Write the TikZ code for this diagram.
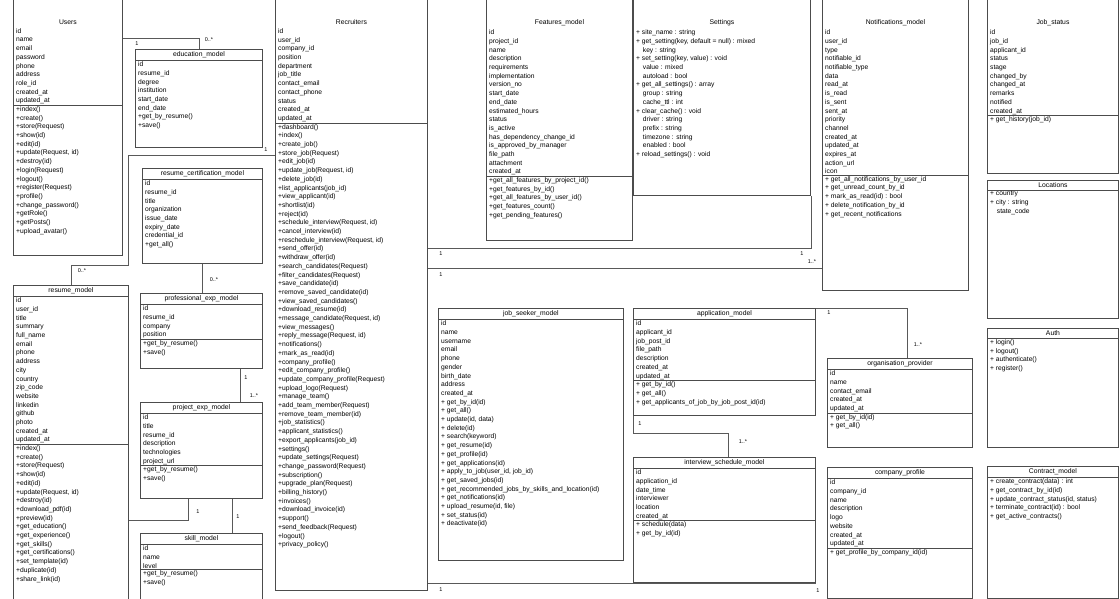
\documentclass[tikz,border=0pt]{standalone}
\usepackage{fontspec}
\setmainfont{Liberation Sans}
\usetikzlibrary{positioning}

\tikzset{
  frame/.style={draw=black!70, line width=0.9pt, anchor=north west, inner sep=0pt},
  ctitle/.style={anchor=north, inner sep=2.5pt, font=\fontsize{6.8}{8}\selectfont},
  members/.style={anchor=north west, align=left, inner sep=1pt, font=\fontsize{6.7}{8.7}\selectfont},
  sepline/.style={draw=black!70, line width=0.9pt},
  link/.style={draw=black!65, line width=0.8pt},
  mult/.style={font=\fontsize{5.5}{6}\selectfont, inner sep=1pt}
}

% attributes and methods of a class
\newcommand{\classbody}[3]{%
  \node[members, xshift=2pt] (#1-a) at (#1.west |- #1-t.south) {#2};
  \def\tmpm{#3}\ifx\tmpm\empty\else
    \draw[sepline] (#1.west |- #1-a.south) -- (#1.east |- #1-a.south);
    \node[members, xshift=2pt] (#1-m) at (#1.west |- #1-a.south) {#3};
  \fi}
% name, top left, width, height, title, attributes, methods
\newcommand{\umlclass}[7]{%
  \node[frame, minimum width=#3pt, minimum height=#4pt] (#1) at (#2) {};
  \node[ctitle] (#1-t) at (#1.north) {#5};
  \draw[sepline] (#1.west |- #1-t.south) -- (#1.east |- #1-t.south);
  \classbody{#1}{#6}{#7}}
% same, top edge cut off by the page
\newcommand{\umlopen}[7]{%
  \node[frame, minimum width=#3pt, minimum height=#4pt] (#1) at (#2) {};
  \node[ctitle] (#1-t) at (#1.center |- 0,17) {#5};
  \classbody{#1}{#6}{#7}}

\begin{document}
\begin{tikzpicture}[x=1pt, y=-1pt]
\useasboundingbox (0,0) rectangle (1120,598);

% left column
\umlopen{users}{13,-10}{109}{265}{Users}
  {id\\name\\email\\password\\phone\\address\\role\_id\\created\_at\\updated\_at}
  {+index()\\+create()\\+store(Request)\\+show(id)\\+edit(id)\\+update(Request, id)\\+destroy(id)\\+login(Request)\\+logout()\\+register(Request)\\+profile()\\+change\_password()\\+getRole()\\+getPosts()\\+upload\_avatar()}

\umlclass{edu}{135,49}{127}{98}{education\_model}
  {id\\resume\_id\\degree\\institution\\start\_date\\end\_date\\+get\_by\_resume()\\+save()}{}

\umlclass{cert}{142,168}{120}{95}{resume\_certification\_model}
  {id\\resume\_id\\title\\organization\\issue\_date\\expiry\_date\\credential\_id\\+get\_all()}{}

\umlclass{resume}{13,285}{115}{330}{resume\_model}
  {id\\user\_id\\title\\summary\\full\_name\\email\\phone\\address\\city\\country\\zip\_code\\website\\linkedin\\github\\photo\\created\_at\\updated\_at}
  {+index()\\+create()\\+store(Request)\\+show(id)\\+edit(id)\\+update(Request, id)\\+destroy(id)\\+download\_pdf(id)\\+preview(id)\\+get\_education()\\+get\_experience()\\+get\_skills()\\+get\_certifications()\\+set\_template(id)\\+duplicate(id)\\+share\_link(id)}

\umlclass{prof}{140,293}{122}{75}{professional\_exp\_model}
  {id\\resume\_id\\company\\position}
  {+get\_by\_resume()\\+save()}

\umlclass{proj}{140,402}{122}{96}{project\_exp\_model}
  {id\\title\\resume\_id\\description\\technologies\\project\_url}
  {+get\_by\_resume()\\+save()}

\umlclass{skill}{140,533}{122}{75}{skill\_model}
  {id\\name\\level}
  {+get\_by\_resume()\\+save()}

% recruiters
\umlopen{recruiters}{275,-10}{152}{600}{Recruiters}
  {id\\user\_id\\company\_id\\position\\department\\job\_title\\contact\_email\\contact\_phone\\status\\created\_at\\updated\_at}
  {+dashboard()\\+index()\\+create\_job()\\+store\_job(Request)\\+edit\_job(id)\\+update\_job(Request, id)\\+delete\_job(id)\\+list\_applicants(job\_id)\\+view\_applicant(id)\\+shortlist(id)\\+reject(id)\\+schedule\_interview(Request, id)\\+cancel\_interview(id)\\+reschedule\_interview(Request, id)\\+send\_offer(id)\\+withdraw\_offer(id)\\+search\_candidates(Request)\\+filter\_candidates(Request)\\+save\_candidate(id)\\+remove\_saved\_candidate(id)\\+view\_saved\_candidates()\\+download\_resume(id)\\+message\_candidate(Request, id)\\+view\_messages()\\+reply\_message(Request, id)\\+notifications()\\+mark\_as\_read(id)\\+company\_profile()\\+edit\_company\_profile()\\+update\_company\_profile(Request)\\+upload\_logo(Request)\\+manage\_team()\\+add\_team\_member(Request)\\+remove\_team\_member(id)\\+job\_statistics()\\+applicant\_statistics()\\+export\_applicants(job\_id)\\+settings()\\+update\_settings(Request)\\+change\_password(Request)\\+subscription()\\+upgrade\_plan(Request)\\+billing\_history()\\+invoices()\\+download\_invoice(id)\\+support()\\+send\_feedback(Request)\\+logout()\\+privacy\_policy()}

% top row
\umlopen{features}{486,-10}{146}{250}{Features\_model}
  {id\\project\_id\\name\\description\\requirements\\implementation\\version\_no\\start\_date\\end\_date\\estimated\_hours\\status\\is\_active\\has\_dependency\_change\_id\\is\_approved\_by\_manager\\file\_path\\attachment\\created\_at}
  {+get\_all\_features\_by\_project\_id()\\+get\_features\_by\_id()\\+get\_all\_features\_by\_user\_id()\\+get\_features\_count()\\+get\_pending\_features()}

\umlopen{settings}{633,-10}{177}{205}{Settings}
  {+ site\_name : string\\+ get\_setting(key, default = null) : mixed\\\quad key : string\\+ set\_setting(key, value) : void\\\quad value : mixed\\\quad autoload : bool\\+ get\_all\_settings() : array\\\quad group : string\\\quad cache\_ttl : int\\+ clear\_cache() : void\\\quad driver : string\\\quad prefix : string\\\quad timezone : string\\\quad enabled : bool\\+ reload\_settings() : void}{}

\umlopen{notif}{822,-10}{146}{300}{Notifications\_model}
  {id\\user\_id\\type\\notifiable\_id\\notifiable\_type\\data\\read\_at\\is\_read\\is\_sent\\sent\_at\\priority\\channel\\created\_at\\updated\_at\\expires\_at\\action\_url\\icon}
  {+ get\_all\_notifications\_by\_user\_id\\+ get\_unread\_count\_by\_id\\+ mark\_as\_read(id) : bool\\+ delete\_notification\_by\_id\\+ get\_recent\_notifications}

\umlopen{jobstatus}{987,-10}{131}{183}{Job\_status}
  {id\\job\_id\\applicant\_id\\status\\stage\\changed\_by\\changed\_at\\remarks\\notified\\created\_at}
  {+ get\_history(job\_id)}

\umlclass{locations}{987,180}{131}{138}{Locations}
  {+ country\\+ city : string\\\quad state\_code}{}

% middle and right bottom
\umlclass{seeker}{438,308}{185}{252}{job\_seeker\_model}
  {id\\name\\username\\email\\phone\\gender\\birth\_date\\address\\created\_at\\+ get\_by\_id(id)\\+ get\_all()\\+ update(id, data)\\+ delete(id)\\+ search(keyword)\\+ get\_resume(id)\\+ get\_profile(id)\\+ get\_applications(id)\\+ apply\_to\_job(user\_id, job\_id)\\+ get\_saved\_jobs(id)\\+ get\_recommended\_jobs\_by\_skills\_and\_location(id)\\+ get\_notifications(id)\\+ upload\_resume(id, file)\\+ set\_status(id)\\+ deactivate(id)}{}

\umlclass{application}{633,308}{182}{107}{application\_model}
  {id\\applicant\_id\\job\_post\_id\\file\_path\\description\\created\_at\\updated\_at}
  {+ get\_by\_id()\\+ get\_all()\\+ get\_applicants\_of\_job\_by\_job\_post\_id(id)}

\umlclass{interview}{633,457}{182}{125}{interview\_schedule\_model}
  {id\\application\_id\\date\_time\\interviewer\\location\\created\_at}
  {+ schedule(data)\\+ get\_by\_id(id)}

\umlclass{org}{827,358}{145}{89}{organisation\_provider}
  {id\\name\\contact\_email\\created\_at\\updated\_at}
  {+ get\_by\_id(id)\\+ get\_all()}

\umlclass{company}{827,467}{145}{131}{company\_profile}
  {id\\company\_id\\name\\description\\logo\\website\\created\_at\\updated\_at}
  {+ get\_profile\_by\_company\_id(id)}

\umlclass{auth}{987,328}{131}{119}{Auth}
  {+ login()\\+ logout()\\+ authenticate()\\+ register()}{}

\umlclass{contract}{987,466}{131}{132}{Contract\_model}
  {+ create\_contract(data) : int\\+ get\_contract\_by\_id(id)\\+ update\_contract\_status(id, status)\\+ terminate\_contract(id) : bool\\+ get\_active\_contracts()}{}

% connectors
\draw[link] (users.east |- 0,38) -| (edu.north);
\node[mult] at (137,44) {1};
\node[mult] at (209,40) {0..*};

\draw[link] (recruiters.west |- 0,155) -- (128,155) -- (128,265) -| (resume.north);
\node[mult] at (266,150) {1};
\node[mult] at (82,271) {0..*};

\draw[link] (cert.south) -- (cert.south |- prof.north);
\node[mult] at (214,280) {0..*};

\draw[link] ([xshift=39pt]prof.south) -- ([xshift=39pt]prof.south |- proj.north);
\node[mult] at (246,378) {1};
\node[mult] at (254,396) {1..*};

\draw[link] ([xshift=-13pt]proj.south) |- (resume.east |- 0,520);
\node[mult] at (198,512) {1};
\draw[link] ([xshift=31pt]proj.south) -- ([xshift=31pt]proj.south |- skill.north);
\node[mult] at (238,517) {1};

\draw[link] (recruiters.east |- 0,248) -| (settings.south east);
\node[mult] at (441,254) {1};
\node[mult] at (802,254) {1};

\draw[link] (recruiters.east |- 0,268) -- (notif.west |- 0,268);
\node[mult] at (441,275) {1};
\node[mult] at (812,262) {1..*};

\draw[link] (recruiters.east |- 0,583) -- (interview.south east |- 0,583);
\node[mult] at (441,590) {1};
\node[mult] at (818,591) {1};

\draw[link] (application.south west) -- ++(0,17) -| ([xshift=95pt]interview.north west);
\node[mult] at (640,424) {1};
\node[mult] at (743,442) {1..*};

\draw[link] (application.north east) -| ([xshift=7pt]org.north);
\node[mult] at (829,313) {1};
\node[mult] at (918,345) {1..*};
\end{tikzpicture}
\end{document}
